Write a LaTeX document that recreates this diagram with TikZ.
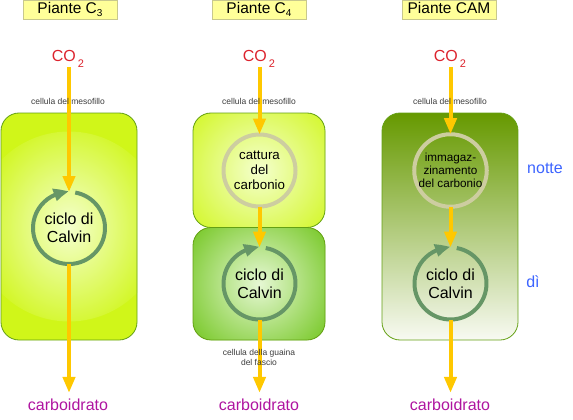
\documentclass[tikz,border=0pt]{standalone}
\usepackage{fontspec}
\setmainfont{Liberation Sans}
\usetikzlibrary{arrows.meta,bending}
\definecolor{hdrfill}{RGB}{255,255,153}
\definecolor{hdrdraw}{RGB}{200,200,140}
\definecolor{co2red}{RGB}{220,35,45}
\definecolor{carbpurple}{RGB}{175,20,160}
\definecolor{flow}{RGB}{255,200,0}
\definecolor{lime}{RGB}{208,246,25}
\definecolor{limein}{RGB}{244,255,205}
\definecolor{boxline}{RGB}{100,160,20}
\definecolor{leaf}{RGB}{120,200,40}
\definecolor{leafin}{RGB}{230,248,212}
\definecolor{camtop}{RGB}{102,153,0}
\definecolor{cammid}{RGB}{168,200,100}
\definecolor{cambot}{RGB}{248,250,242}
\definecolor{calring}{RGB}{102,150,102}
\definecolor{storering}{RGB}{205,205,160}
\definecolor{timeblue}{RGB}{60,100,255}
\definecolor{smallgray}{RGB}{60,60,60}
\newcommand{\lowsub}[3]{\raisebox{-#1}[0pt][0pt]{\fontsize{#2}{#2}\selectfont #3}}
\begin{document}
\begin{tikzpicture}[x=1pt,y=-1pt,
 header/.style={draw=hdrdraw, fill=hdrfill, line width=0.8pt, minimum width=94pt, minimum height=18.5pt, inner sep=0pt, text height=9.5pt, text depth=2pt, font=\fontsize{15.5}{16}\selectfont},
 co2/.style={text=co2red, font=\fontsize{16}{16}\selectfont, inner sep=1pt},
 carb/.style={text=carbpurple, font=\fontsize{16}{16}\selectfont, inner sep=1pt},
 cellnote/.style={text=smallgray, font=\fontsize{8.5}{10}\selectfont, align=center, inner sep=0pt},
 timenote/.style={text=timeblue, font=\fontsize{16}{16}\selectfont, inner sep=0pt},
 cellbox/.style={draw=boxline, line width=0.8pt, rounded corners=18pt, inner sep=0pt},
 limebox/.style={cellbox, fill=lime, path picture={\shade[inner color=limein, outer color=lime] (path picture bounding box.center) circle (95pt);}},
 leafbox/.style={cellbox, fill=leaf, path picture={\shade[inner color=leafin, outer color=leaf] (path picture bounding box.center) circle (85pt);}},
 cambox/.style={cellbox, top color=camtop, middle color=cammid, bottom color=cambot},
 stage/.style={circle, minimum size=72pt, inner sep=0pt, outer sep=0pt, align=center},
 storestage/.style={stage, draw=storering, line width=4pt},
 calvintext/.style={font=\fontsize{16}{18}\selectfont},
 calvinring/.style={draw=calring, line width=4pt, -{Triangle[length=15pt,width=12pt,bend]}},
 flowarrow/.style={draw=flow, line width=4pt, -{Triangle[length=16pt,width=12pt]}}
]
\useasboundingbox (0,0) rectangle (573,420);

% headers
\node[header] (h3) at (70,9.75) {Piante C\lowsub{3.5pt}{10}{3}};
\node[header] (h4) at (259,9.75) {Piante C\lowsub{3.5pt}{10}{4}};
\node[header] (hcam) at (449,9.75) {Piante CAM};

% CO2
\node[co2] (co2a) at (68,56) {CO\hspace{2pt}\lowsub{6pt}{11}{2}};
\node[co2] (co2b) at (259,56) {CO\hspace{2pt}\lowsub{6pt}{11}{2}};
\node[co2] (co2c) at (450,56) {CO\hspace{2pt}\lowsub{6pt}{11}{2}};

% boxes
\node[limebox, minimum width=136pt, minimum height=227pt] (box3) at (69,226.5) {};
\node[limebox, minimum width=132pt, minimum height=114.5pt] (box4a) at (259,170.25) {};
\node[leafbox, minimum width=132pt, minimum height=112.5pt] (box4b) at (259,283.75) {};
\node[cambox, minimum width=136pt, minimum height=227pt] (boxcam) at (450,226.5) {};

% stages
\node[stage, calvintext] (c3cal) at (69,228) {ciclo di\\Calvin};
\node[storestage, font=\fontsize{13.3}{15}\selectfont] (c4cap) at (259.5,170.5) {cattura\\del\\carbonio};
\node[stage, calvintext] (c4cal) at (259.5,283.5) {ciclo di\\Calvin};
\node[storestage, font=\fontsize{11.7}{13}\selectfont] (camsto) at (450.5,170.5) {immagaz-\\zinamento\\del carbonio};
\node[stage, calvintext] (camcal) at (450.5,283.5) {ciclo di\\Calvin};

% Calvin rings
\draw[calvinring] (c3cal.80) arc[start angle=80, end angle=-270, radius=36pt];
\draw[calvinring] (c4cal.80) arc[start angle=80, end angle=-270, radius=36pt];
\draw[calvinring] (camcal.80) arc[start angle=80, end angle=-270, radius=36pt];

% carboidrato
\node[carb] (carb3) at (68,405) {carboidrato};
\node[carb] (carb4) at (259,405) {carboidrato};
\node[carb] (carbcam) at (450,405) {carboidrato};

% flows
\draw[flowarrow, shorten <=4pt] (co2a.south -| c3cal) -- (c3cal.north);
\draw[flowarrow, shorten >=5pt] (c3cal.south) -- (carb3.north -| c3cal);
\draw[flowarrow, shorten <=4pt] (co2b.south -| c4cap) -- (c4cap.north);
\draw[flowarrow] (c4cap.south) -- (c4cal.north);
\draw[flowarrow, shorten >=5pt] (c4cal.south) -- (carb4.north -| c4cal);
\draw[flowarrow, shorten <=4pt] (co2c.south -| camsto) -- (camsto.north);
\draw[flowarrow] (camsto.south) -- (camcal.north);
\draw[flowarrow, shorten >=5pt] (camcal.south) -- (carbcam.north -| camcal);

% notes
\node[cellnote] (m3) at (68,101) {cellula del mesofillo};
\node[cellnote] (m4) at (259,101) {cellula del mesofillo};
\node[cellnote] (mcam) at (450,101) {cellula del mesofillo};
\node[cellnote] (g4) at (259,357) {cellula della guaina\\del fascio};
\node[timenote] (night) at (545,168) {notte};
\node[timenote] (day) at (533,282) {dì};
\end{tikzpicture}
\end{document}
